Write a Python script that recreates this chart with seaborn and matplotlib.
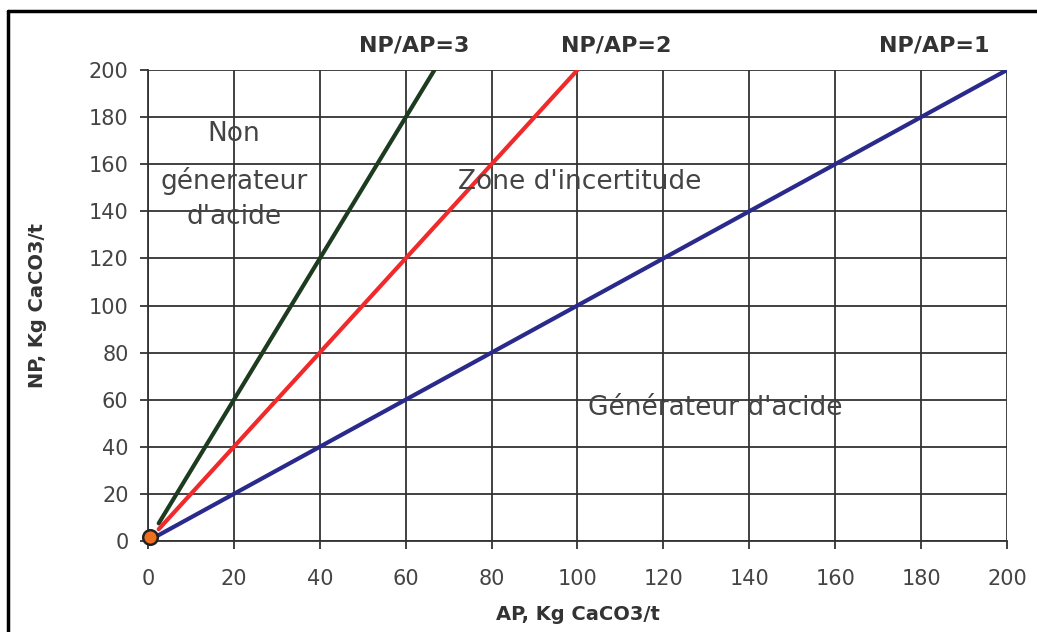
import numpy as np
import pandas as pd
import seaborn as sns
import matplotlib.pyplot as plt
from matplotlib.lines import Line2D

# ratio lines NP/AP
ratio_names = ["NP/AP=3", "NP/AP=2", "NP/AP=1"]
ratio_ap = [[2.5, 66.7], [2.5, 100.0], [0.0, 200.0]]
ratio_np = [[7.5, 200.0], [5.0, 200.0], [0.0, 200.0]]
ratio_colors = ["#1c3b1f", "#f02a2a", "#2a2a8c"]
label_x = [62, 109, 183]

# sample point
point_ap = [0.5]
point_np = [1.5]

# zone labels
zone_text = ["Non", "génerateur", "d'acide", "Zone d'incertitude", "Générateur d'acide"]
zone_x = [20, 20, 20, 100.5, 132]
zone_y = [173, 153, 137.5, 152.5, 56.5]

ticks = list(range(0, 201, 20))

rows = []
for name, xs, ys in zip(ratio_names, ratio_ap, ratio_np):
    for x, y in zip(xs, ys):
        rows.append({"AP": x, "NP": y, "ratio": name})
df = pd.DataFrame(rows)

sns.set_style("white")
plt.rcParams["font.family"] = ["DejaVu Sans"]

fig = plt.figure(figsize=(10.37, 6.32), dpi=100)
ax = fig.add_axes([0.1427, 0.144, 0.8283, 0.7452])

sns.lineplot(data=df, x="AP", y="NP", hue="ratio", palette=ratio_colors,
             hue_order=ratio_names, linewidth=3, legend=False, ax=ax, zorder=3)
sns.scatterplot(x=point_ap, y=point_np, marker="o", s=110, color="#f07020",
                edgecolor="#222222", linewidth=1.8, ax=ax, zorder=4, clip_on=False)

ax.set_xlim(0, 200)
ax.set_ylim(0, 200)
ax.set_xticks(ticks)
ax.set_yticks(ticks)
ax.grid(True, color="#333333", linewidth=1.3)
ax.set_axisbelow(True)
for s in ["top", "right"]:
    ax.spines[s].set_visible(False)
for s in ["left", "bottom"]:
    ax.spines[s].set_color("#333333")
    ax.spines[s].set_linewidth(1.3)
ax.tick_params(axis="both", direction="out", length=6, width=1.3, color="#333333",
               labelsize=15, labelcolor="#444444", pad=8)
ax.tick_params(axis="x", pad=14)
ax.tick_params(axis="both", bottom=True, left=True)

ax.set_xlabel("AP, Kg CaCO3/t", fontsize=14, fontweight="bold", color="#333333", labelpad=12)
ax.set_ylabel("NP, Kg CaCO3/t", fontsize=14, fontweight="bold", color="#333333", labelpad=30)

for name, lx in zip(ratio_names, label_x):
    ax.text(lx, 206, name, ha="center", va="bottom", fontsize=16, fontweight="bold",
            color="#333333")

for t, x, y in zip(zone_text, zone_x, zone_y):
    ax.text(x, y, t, ha="center", va="center", fontsize=19, color="#444444", zorder=5)

# outer frame (top and left edges)
fig.add_artist(Line2D([0.008, 1.0], [0.983, 0.983], color="black", linewidth=2.5,
                      transform=fig.transFigure))
fig.add_artist(Line2D([0.008, 0.008], [0.0, 0.983], color="black", linewidth=2.5,
                      transform=fig.transFigure))

fig.savefig("out.png", dpi=100, facecolor="white")
